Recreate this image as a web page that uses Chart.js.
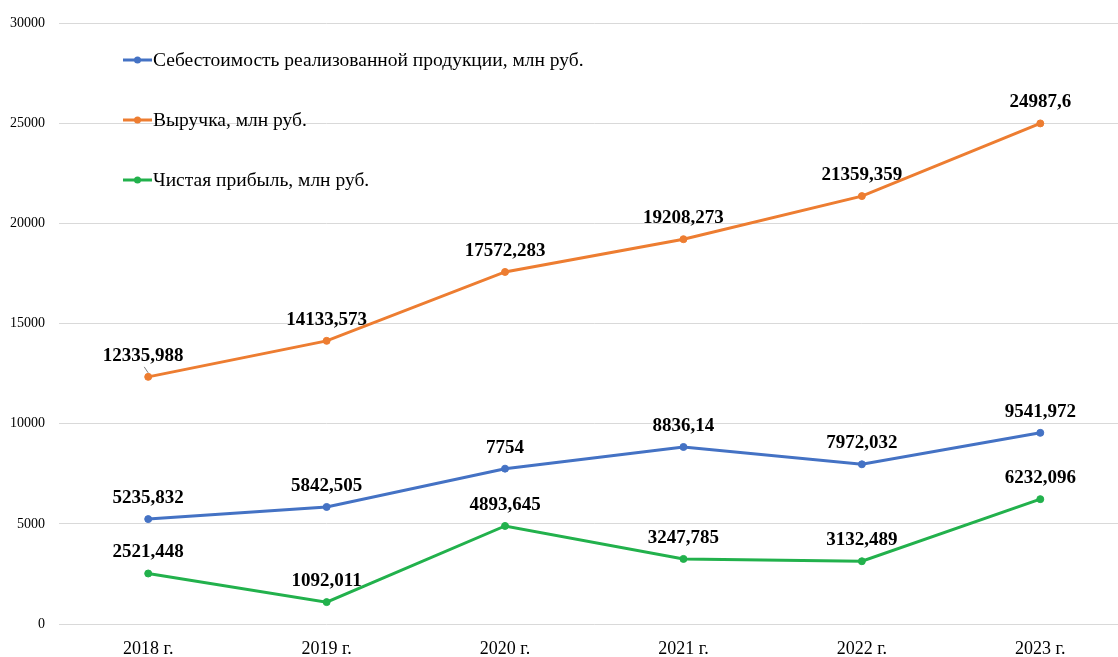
<!DOCTYPE html>
<html>
<head>
<meta charset="utf-8">
<script src="https://cdn.jsdelivr.net/npm/chart.js@4"></script>
<style>
  html, body { margin: 0; padding: 0; background: #fff; overflow: hidden; }
  #wrap { width: 1134px; height: 657px; }
</style>
</head>
<body>
<div id="wrap"><canvas id="chart"></canvas></div>
<script>
const years = ['2018 г.', '2019 г.', '2020 г.', '2021 г.', '2022 г.', '2023 г.'];
const cost = [5235.832, 5842.505, 7754, 8836.14, 7972.032, 9541.972];
const revenue = [12335.988, 14133.573, 17572.283, 19208.273, 21359.359, 24987.6];
const profit = [2521.448, 1092.011, 4893.645, 3247.785, 3132.489, 6232.096];
const yTicks = [0, 5000, 10000, 15000, 20000, 25000, 30000];

const serif = '"Liberation Serif", "Times New Roman", serif';

// value labels above each point (comma as decimal sign)
const valueLabels = {
  id: 'valueLabels',
  afterDatasetsDraw(chart) {
    const ctx = chart.ctx;
    ctx.save();
    ctx.font = 'bold 19px ' + serif;
    ctx.fillStyle = '#000';
    ctx.textAlign = 'center';
    ctx.textBaseline = 'middle';
    chart.data.datasets.forEach((ds, i) => {
      chart.getDatasetMeta(i).data.forEach((pt, j) => {
        const txt = String(ds.data[j]).replace('.', ',');
        let dx = 0;
        if (i === 1 && j === 0) {
          dx = -5;
          ctx.strokeStyle = '#7f7f7f';
          ctx.lineWidth = 1;
          ctx.beginPath();
          ctx.moveTo(pt.x - 4, pt.y - 10);
          ctx.lineTo(pt.x, pt.y - 4);
          ctx.stroke();
        }
        ctx.fillText(txt, pt.x + dx, pt.y - 21);
      });
    });
    ctx.restore();
  }
};

// legend drawn inside the plot, stacked vertically
const innerLegend = {
  id: 'innerLegend',
  afterDraw(chart) {
    const ctx = chart.ctx;
    ctx.save();
    ctx.font = '19.5px ' + serif;
    ctx.textBaseline = 'middle';
    ctx.textAlign = 'left';
    chart.data.datasets.forEach((ds, i) => {
      const y = 60 + i * 60;
      ctx.strokeStyle = ds.borderColor;
      ctx.lineWidth = 3;
      ctx.beginPath();
      ctx.moveTo(123, y);
      ctx.lineTo(152, y);
      ctx.stroke();
      ctx.fillStyle = ds.borderColor;
      ctx.beginPath();
      ctx.arc(137.5, y, 3.5, 0, Math.PI * 2);
      ctx.fill();
      ctx.fillStyle = '#000';
      ctx.fillText(ds.label, 153, y + 1);
    });
    ctx.restore();
  }
};

function lineSet(label, data, color) {
  return {
    label: label,
    data: data,
    borderColor: color,
    backgroundColor: color,
    borderWidth: 3,
    pointRadius: 3.5,
    pointBorderWidth: 1,
    pointHoverRadius: 3.5,
    tension: 0
  };
}

new Chart(document.getElementById('chart'), {
  type: 'line',
  plugins: [valueLabels, innerLegend],
  data: {
    labels: years,
    datasets: [
      lineSet('Себестоимость реализованной продукции, млн руб.', cost, '#4472C4'),
      lineSet('Выручка, млн руб.', revenue, '#ED7D31'),
      lineSet('Чистая прибыль, млн руб.', profit, '#22B14C')
    ]
  },
  options: {
    responsive: true,
    maintainAspectRatio: false,
    animation: false,
    layout: {
      padding: { top: 23, right: 0, bottom: 0, left: 0 }
    },
    plugins: {
      legend: { display: false },
      tooltip: { enabled: false }
    },
    scales: {
      x: {
        offset: true,
        border: { display: false },
        grid: { display: false, drawTicks: false },
        ticks: {
          color: '#000',
          padding: 14,
          font: { family: serif, size: 18 }
        },
        afterFit(scale) { scale.height = 33; }
      },
      y: {
        min: 0,
        max: 30000,
        border: { display: false },
        grid: { color: '#d9d9d9', lineWidth: 1, drawTicks: false },
        afterBuildTicks(scale) { scale.ticks = yTicks.map(v => ({ value: v })); },
        ticks: {
          color: '#000',
          padding: 14,
          font: { family: serif, size: 14 },
          callback: v => String(v)
        },
        afterFit(scale) { scale.width = 59; }
      }
    }
  }
});
</script>
</body>
</html>
